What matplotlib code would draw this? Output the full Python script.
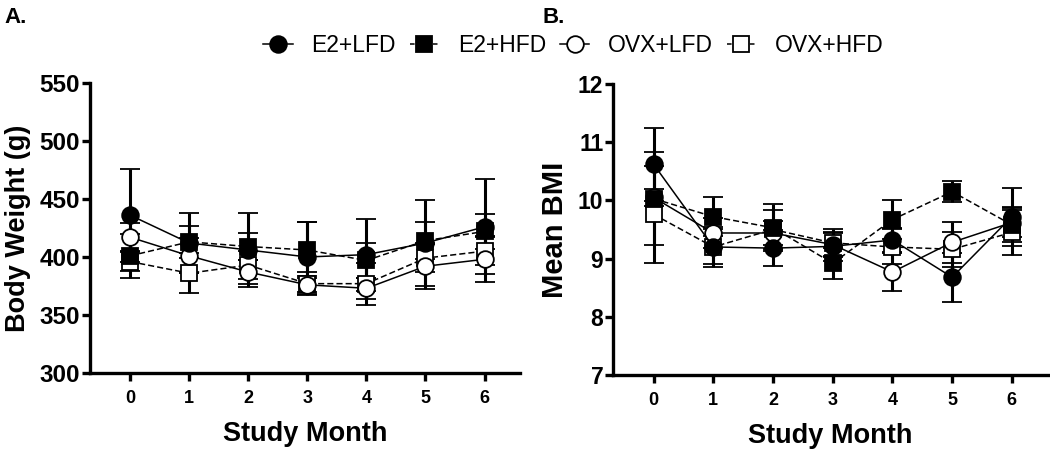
import matplotlib
matplotlib.use("Agg")
import matplotlib.pyplot as plt
from matplotlib.lines import Line2D
import numpy as np

plt.rcParams['font.family'] = ['Liberation Sans', 'DejaVu Sans']

months = [0, 1, 2, 3, 4, 5, 6]
groups = ["E2+LFD", "E2+HFD", "OVX+LFD", "OVX+HFD"]

# panel A - body weight (g), mean and SEM
bw_e2_lfd = [436, 412, 406, 400, 402, 412, 426]
bw_e2_lfd_err = [40, 26, 32, 30, 31, 37, 41]
bw_e2_hfd = [401, 413, 409, 406, 397, 414, 422]
bw_e2_hfd_err = [19, 14, 12, 24, 15, 16, 15]
bw_ovx_lfd = [417, 401, 387, 376, 373, 392, 398]
bw_ovx_lfd_err = [12, 15, 10, 8, 9, 20, 20]
bw_ovx_hfd = [396, 386, 393, 377, 377, 399, 405]
bw_ovx_hfd_err = [8, 17, 12, 10, 18, 12, 12]

# panel B - mean BMI
bmi_e2_lfd = [10.62, 9.20, 9.18, 9.21, 9.32, 8.68, 9.72]
bmi_e2_lfd_err = [0.63, 0.30, 0.31, 0.25, 0.20, 0.42, 0.50]
bmi_e2_hfd = [10.03, 9.72, 9.53, 8.92, 9.67, 10.15, 9.58]
bmi_e2_hfd_err = [0.80, 0.34, 0.40, 0.27, 0.33, 0.18, 0.30]
bmi_ovx_lfd = [10.05, 9.44, 9.44, 9.24, 8.77, 9.28, 9.62]
bmi_ovx_lfd_err = [0.15, 0.25, 0.20, 0.20, 0.33, 0.35, 0.25]
bmi_ovx_hfd = [9.76, 9.20, 9.50, 9.27, 9.20, 9.16, 9.45]
bmi_ovx_hfd_err = [0.83, 0.35, 0.34, 0.24, 0.30, 0.30, 0.38]

styles = {
    "E2+LFD": dict(marker='o', ls='-', mfc='black', ms=12),
    "E2+HFD": dict(marker='s', ls='--', mfc='black', ms=11),
    "OVX+LFD": dict(marker='o', ls='-', mfc='white', ms=12),
    "OVX+HFD": dict(marker='s', ls='--', mfc='white', ms=11),
}


def draw(ax, series, ylim, yticks, ylabel, ytick_size, ylab_size, ypad):
    # draw open symbols first so filled ones sit on top
    for name in ["OVX+HFD", "OVX+LFD", "E2+HFD", "E2+LFD"]:
        vals, err = series[name]
        st = styles[name]
        ax.errorbar(months, vals, yerr=err, color='black', lw=1.1,
                    ls=st['ls'], marker=st['marker'], mfc=st['mfc'],
                    mec='black', mew=1.3, ms=st['ms'], ecolor='black',
                    elinewidth=2.2, capsize=7.5, capthick=2.2, dashes=(4, 2)
                    if st['ls'] == '--' else (None, None))
    ax.set_xlim(-0.68, 6.6)
    ax.set_ylim(*ylim)
    ax.set_yticks(yticks)
    ax.set_xticks(months)
    for s in ['top', 'right']:
        ax.spines[s].set_visible(False)
    for s in ['left', 'bottom']:
        ax.spines[s].set_linewidth(2.4)
    ax.tick_params(width=2.4, length=6, direction='out')
    ax.tick_params(axis='x', labelsize=13, pad=6)
    ax.tick_params(axis='y', labelsize=ytick_size, pad=1)
    for lab in ax.get_xticklabels() + ax.get_yticklabels():
        lab.set_fontweight('bold')
    ax.set_xlabel("Study Month", fontsize=19.5, fontweight='bold', labelpad=10)
    ax.set_ylabel(ylabel, fontsize=ylab_size, fontweight='bold', labelpad=ypad)


fig = plt.figure(figsize=(10.5, 4.54), dpi=100)
axA = fig.add_axes([0.0857, 0.1784, 0.4095, 0.639])
axB = fig.add_axes([0.5838, 0.174, 0.414, 0.641])

draw(axA, {
    "E2+LFD": (bw_e2_lfd, bw_e2_lfd_err),
    "E2+HFD": (bw_e2_hfd, bw_e2_hfd_err),
    "OVX+LFD": (bw_ovx_lfd, bw_ovx_lfd_err),
    "OVX+HFD": (bw_ovx_hfd, bw_ovx_hfd_err),
}, (300, 550), np.arange(300, 551, 50), "Body Weight (g)", 17.5, 19.5, 6)

draw(axB, {
    "E2+LFD": (bmi_e2_lfd, bmi_e2_lfd_err),
    "E2+HFD": (bmi_e2_hfd, bmi_e2_hfd_err),
    "OVX+LFD": (bmi_ovx_lfd, bmi_ovx_lfd_err),
    "OVX+HFD": (bmi_ovx_hfd, bmi_ovx_hfd_err),
}, (7, 12), np.arange(7, 13, 1), "Mean BMI", 16.5, 21, 6)

fig.text(0.004, 0.962, "A.", fontsize=16, fontweight='bold', va='center')
fig.text(0.517, 0.962, "B.", fontsize=16, fontweight='bold', va='center')

handles = []
for name in groups:
    st = styles[name]
    handles.append(Line2D([0], [0], color='black', lw=1.1, ls=st['ls'],
                          dashes=(3, 2) if st['ls'] == '--' else (None, None),
                          marker=st['marker'], mfc=st['mfc'], mec='black',
                          mew=1.3, ms=st['ms']))
fig.legend(handles, groups, loc='center', bbox_to_anchor=(0.546, 0.9),
           ncol=4, frameon=False, fontsize=16.5, handlelength=1.3,
           handletextpad=0.8, columnspacing=0.6)

fig.savefig("out.png", dpi=100)
